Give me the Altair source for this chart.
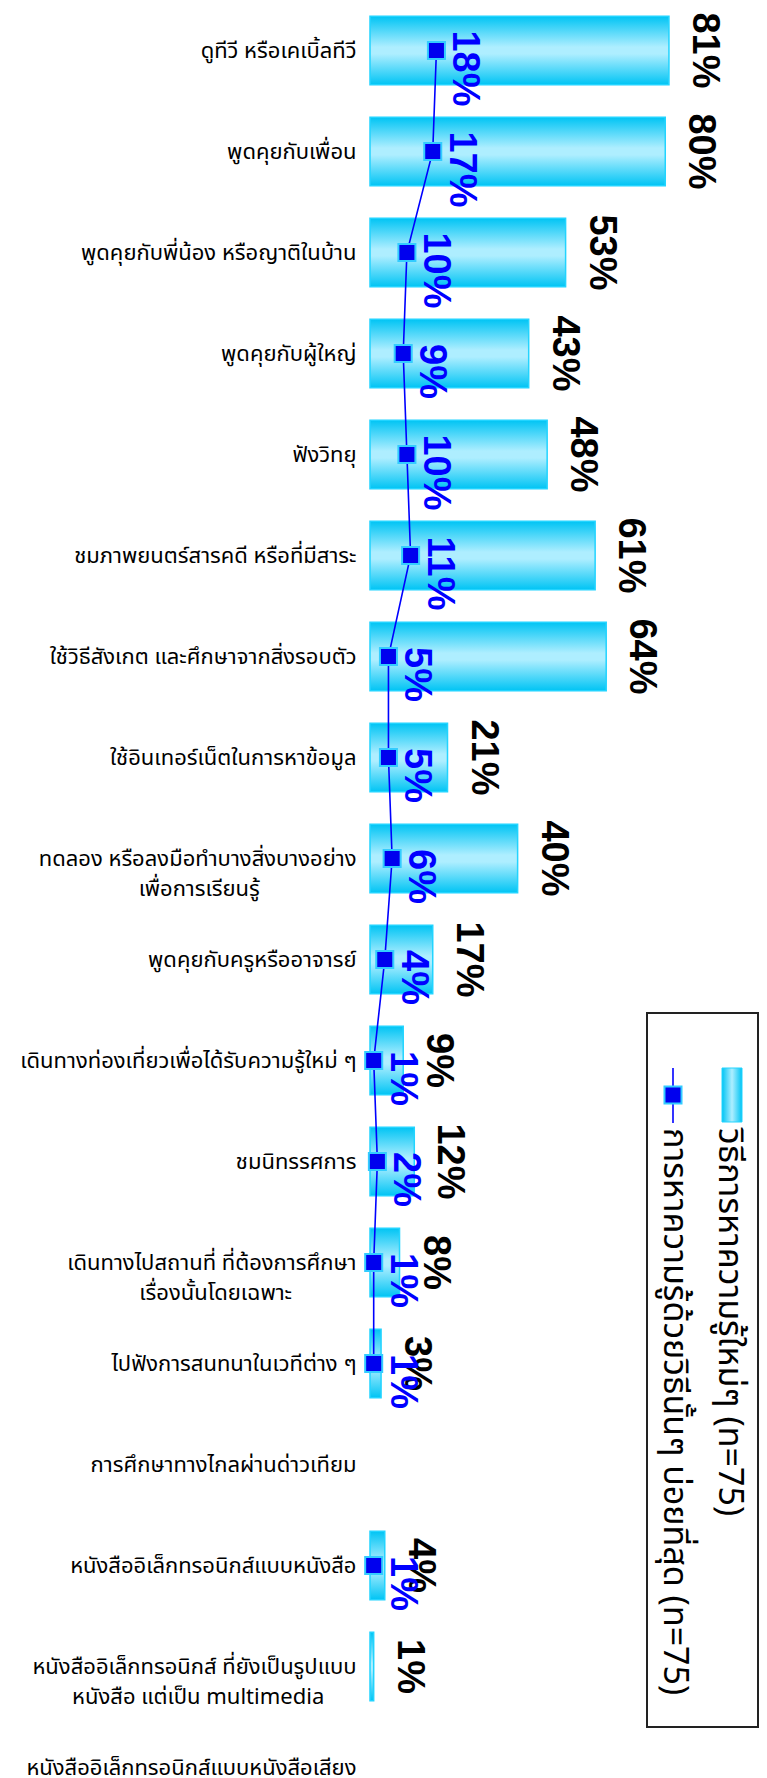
import unicodedata
import altair as alt
import pandas as pd

categories = [
    "ดูทีวี หรือเคเบิ้ลทีวี",
    "พูดคุยกับเพื่อน",
    "พูดคุยกับพี่น้อง หรือญาติในบ้าน",
    "พูดคุยกับผู้ใหญ่",
    "ฟังวิทยุ",
    "ชมภาพยนตร์สารคดี หรือที่มีสาระ",
    "ใช้วิธีสังเกต และศึกษาจากสิ่งรอบตัว",
    "ใช้อินเทอร์เน็ตในการหาข้อมูล",
    "ทดลอง หรือลงมือทำบางสิ่งบางอย่าง\nเพื่อการเรียนรู้",
    "พูดคุยกับครูหรืออาจารย์",
    "เดินทางท่องเที่ยวเพื่อได้รับความรู้ใหม่ ๆ",
    "ชมนิทรรศการ",
    "เดินทางไปสถานที่ ที่ต้องการศึกษา\nเรื่องนั้นโดยเฉพาะ",
    "ไปฟังการสนทนาในเวทีต่าง ๆ",
    "การศึกษาทางไกลผ่านด่าวเทียม",
    "หนังสืออิเล็กทรอนิกส์แบบหนังสือ",
    "หนังสืออิเล็กทรอนิกส์ ที่ยังเป็นรูปแบบ\nหนังสือ แต่เป็น multimedia",
    "หนังสืออิเล็กทรอนิกส์แบบหนังสือเสียง",
]

# วิธีการหาความรู้ใหม่ๆ (n=75)  -> bars
method_pct = [81, 80, 53, 43, 48, 61, 64, 21, 40, 17, 9, 12, 8, 3, None, 4, 1, None]
# การหาความรู้ด้วยวิธีนั้นๆ บ่อยที่สุด (n=75) -> line
most_pct = [18, 17, 10, 9, 10, 11, 5, 5, 6, 4, 1, 2, 1, 1, None, 1, None, None]

series_names = ["วิธีการหาความรู้ใหม่ๆ (n=75)", "การหาความรู้ด้วยวิธีนั้นๆ บ่อยที่สุด (n=75)"]


def spacing_len(s):
    return sum(1 for ch in s if unicodedata.category(ch) != "Mn")


def centre_lines(label):
    # axis labels are right-aligned; pad the shorter line with blank
    # (invisible) characters so the two lines of a label look centred
    parts = label.split("\n")
    if len(parts) < 2:
        return label
    n = max(spacing_len(p) for p in parts)
    out = []
    for p in parts:
        pad = round((n - spacing_len(p)) * 0.4)
        out.append(p + "\u2800" * pad)
    return "\n".join(out)


display = [centre_lines(c) for c in categories]

df = pd.DataFrame({"cat": display, "method": method_pct, "most": most_pct})
df["seg"] = df["most"].isna().cumsum()

THAI = "Noto Sans Thai, Tahoma, DejaVu Sans, sans-serif"
NUM = "Liberation Sans, Arial, sans-serif"

W, H = 389, 1770
x_scale = alt.Scale(domain=[0, 105.4], nice=False, zero=True)
y_scale = alt.Scale(domain=display, range=[-8, 1810], paddingInner=0.32, paddingOuter=0.16)
y_enc = alt.Y(
    "cat:N",
    sort=display,
    scale=y_scale,
    axis=alt.Axis(
        title=None, domain=False, ticks=False, labelPadding=14, labelLimit=0,
        labelFont=THAI, labelFontSize=22, labelColor="#000000",
        labelExpr="split(datum.label, '\\n')", labelLineHeight=30,
    ),
)
y_plain = alt.Y("cat:N", sort=display, scale=y_scale)

bar_grad = alt.LinearGradient(
    gradient="linear", x1=0, x2=0, y1=0, y2=1,
    stops=[
        alt.GradientStop(color="#00c4f4", offset=0),
        alt.GradientStop(color="#aeeeff", offset=0.45),
        alt.GradientStop(color="#aeeeff", offset=0.55),
        alt.GradientStop(color="#00c4f4", offset=1),
    ],
)

base = alt.Chart(df)

bars = base.transform_filter("isValid(datum.method)").mark_bar(
    fill=bar_grad, stroke="#22d4ff", strokeWidth=1.5
).encode(x=alt.X("method:Q", scale=x_scale, axis=None), y=y_enc)

line = base.transform_filter("isValid(datum.most)").mark_line(
    color="#0000ff", strokeWidth=1.6
).encode(x=alt.X("most:Q", scale=x_scale), y=y_plain, detail="seg:N")

points = base.transform_filter("isValid(datum.most)").mark_point(
    shape="square", filled=True, fill="#0000ee", stroke="#33ccff", strokeWidth=2,
    size=290, opacity=1
).encode(x=alt.X("most:Q", scale=x_scale), y=y_plain)

bar_text = base.transform_filter("isValid(datum.method)").transform_calculate(
    lbl="datum.method + '%'"
).mark_text(
    angle=90, align="center", baseline="alphabetic", dy=-24, font=NUM,
    fontSize=38, fontWeight="bold", color="#000000"
).encode(x=alt.X("method:Q", scale=x_scale), y=y_plain, text="lbl:N")

line_text = base.transform_filter("isValid(datum.most)").transform_calculate(
    lbl="datum.most + '%'"
).mark_text(
    angle=90, align="center", baseline="alphabetic", dy=-17, dx=18, font=NUM,
    fontSize=38, fontWeight="bold", color="#0000ff"
).encode(x=alt.X("most:Q", scale=x_scale), y=y_plain, text="lbl:N")

# legend (drawn manually, rotated like the reference)
one = alt.Data(values=[{}])
leg_box = alt.Chart(one).mark_rect(
    fillOpacity=0, stroke="#222222", strokeWidth=2
).encode(x=alt.value(277), x2=alt.value(388), y=alt.value(1005), y2=alt.value(1719))

sw_grad = alt.LinearGradient(
    gradient="linear", x1=0, x2=1, y1=0, y2=0,
    stops=[
        alt.GradientStop(color="#00c4f4", offset=0),
        alt.GradientStop(color="#aeeeff", offset=0.5),
        alt.GradientStop(color="#00c4f4", offset=1),
    ],
)
leg_swatch = alt.Chart(one).mark_rect(
    fill=sw_grad, stroke="#22d4ff", strokeWidth=1
).encode(x=alt.value(352), x2=alt.value(372), y=alt.value(1060), y2=alt.value(1114))
leg_line = alt.Chart(one).mark_rule(color="#0000ff", strokeWidth=1.6).encode(
    x=alt.value(303), y=alt.value(1060), y2=alt.value(1115)
)
leg_pt = alt.Chart(one).mark_point(
    shape="square", filled=True, fill="#0000ee", stroke="#33ccff", strokeWidth=2,
    size=290, opacity=1
).encode(x=alt.value(303), y=alt.value(1087))
leg_t1 = alt.Chart(one).mark_text(
    angle=90, align="left", baseline="alphabetic", font=THAI, fontSize=34, color="#000000"
).encode(x=alt.value(349), y=alt.value(1120), text=alt.value(series_names[0]))
leg_t2 = alt.Chart(one).mark_text(
    angle=90, align="left", baseline="alphabetic", font=THAI, fontSize=34, color="#000000"
).encode(x=alt.value(294), y=alt.value(1120), text=alt.value(series_names[1]))

chart = alt.layer(
    bars, line, points, bar_text, line_text,
    leg_box, leg_swatch, leg_line, leg_pt, leg_t1, leg_t2,
).properties(
    width=W, height=H,
    autosize=alt.AutoSizeParams(type="none"),
    padding={"left": 362, "top": 0, "right": 0, "bottom": 0},
    background="#ffffff",
).configure_view(stroke=None)

chart.save("out.html", embed_options={"renderer": "svg", "actions": False})
